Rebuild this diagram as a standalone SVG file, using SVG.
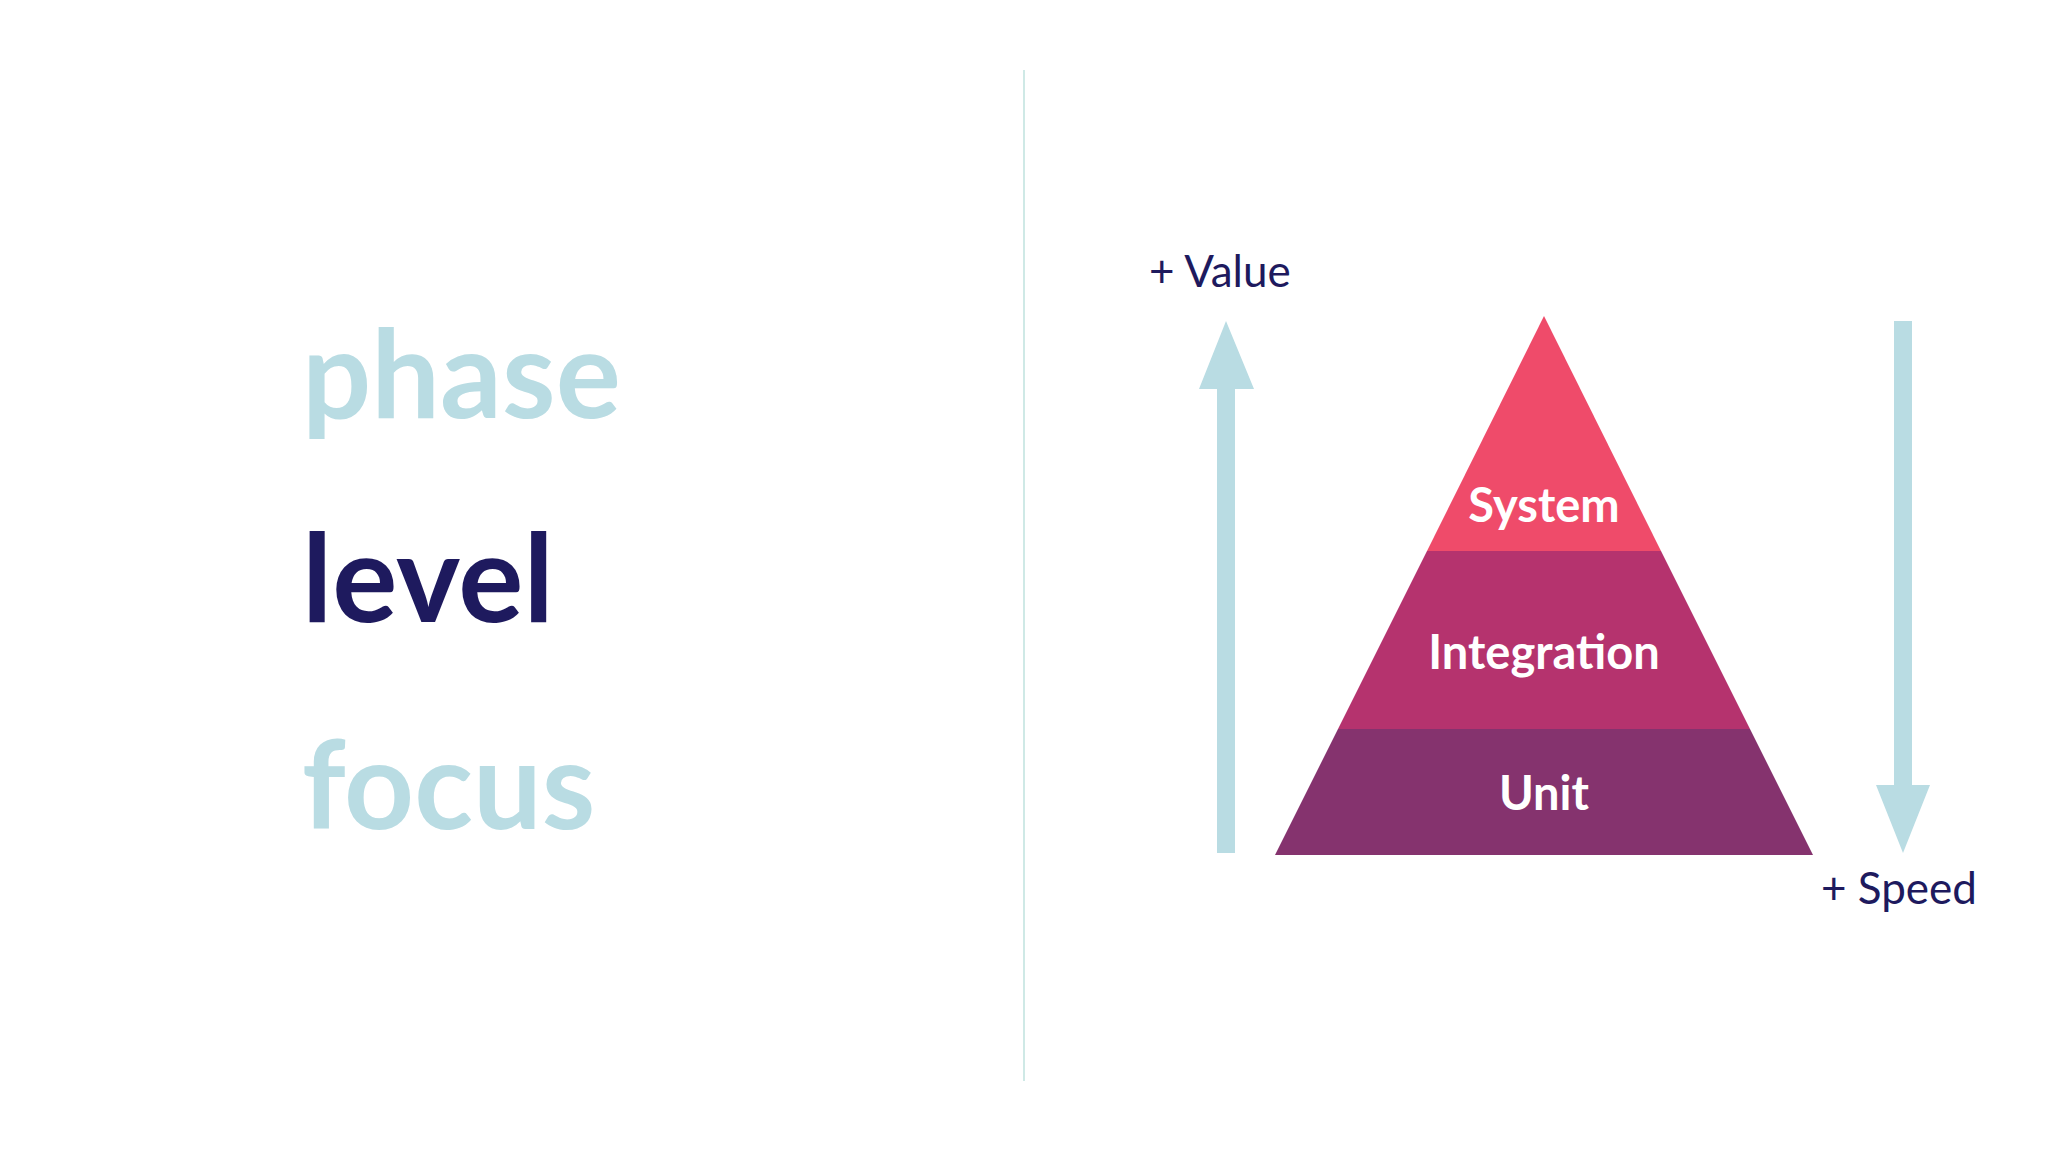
<svg xmlns="http://www.w3.org/2000/svg" width="2048" height="1152" viewBox="0 0 2048 1152">
<style>
.big{font-family:Lato,"Liberation Sans",sans-serif;font-weight:700;font-size:122px}
.lbl{font-family:Lato,"Liberation Sans",sans-serif;font-weight:700;font-size:47px;fill:#fff;text-anchor:middle}
.ax{font-family:Lato,"Liberation Sans",sans-serif;font-size:44px;fill:#1e1a5e}
.arr{fill:#b9dce3}
</style>
<rect width="2048" height="1152" fill="#fff"/>
<line x1="1024" y1="70" x2="1024" y2="1081" stroke="#cfe9e6" stroke-width="2"/>
<g id="words">
<text class="big" x="302" y="418" fill="#b9dce3">phase</text>
<text class="big" x="302" y="622" fill="#1e1a5e">level</text>
<text class="big" x="302" y="829" fill="#b9dce3">focus</text>
</g>
<g id="pyramid">
<g id="system"><polygon points="1544,316 1661,551 1427,551" fill="#ef4b6a"/><text class="lbl" x="1544" y="522">System</text></g>
<g id="integration"><polygon points="1427,551 1661,551 1750,729 1338,729" fill="#b5336e"/><text class="lbl" x="1544" y="669">Integration</text></g>
<g id="unit"><polygon points="1338,729 1750,729 1813,855 1275,855" fill="#85336e"/><text class="lbl" x="1544" y="810">Unit</text></g>
</g>
<g id="connectors">
<polygon class="arr" points="1226,321 1254,389 1235,389 1235,853 1217,853 1217,389 1199,389"/>
<polygon class="arr" points="1894,321 1912,321 1912,785 1930,785 1903,853 1876,785 1894,785"/>
</g>
<g id="axes">
<text class="ax" x="1149" y="287">+ Value</text>
<text class="ax" x="1821" y="904">+ Speed</text>
</g>
</svg>
